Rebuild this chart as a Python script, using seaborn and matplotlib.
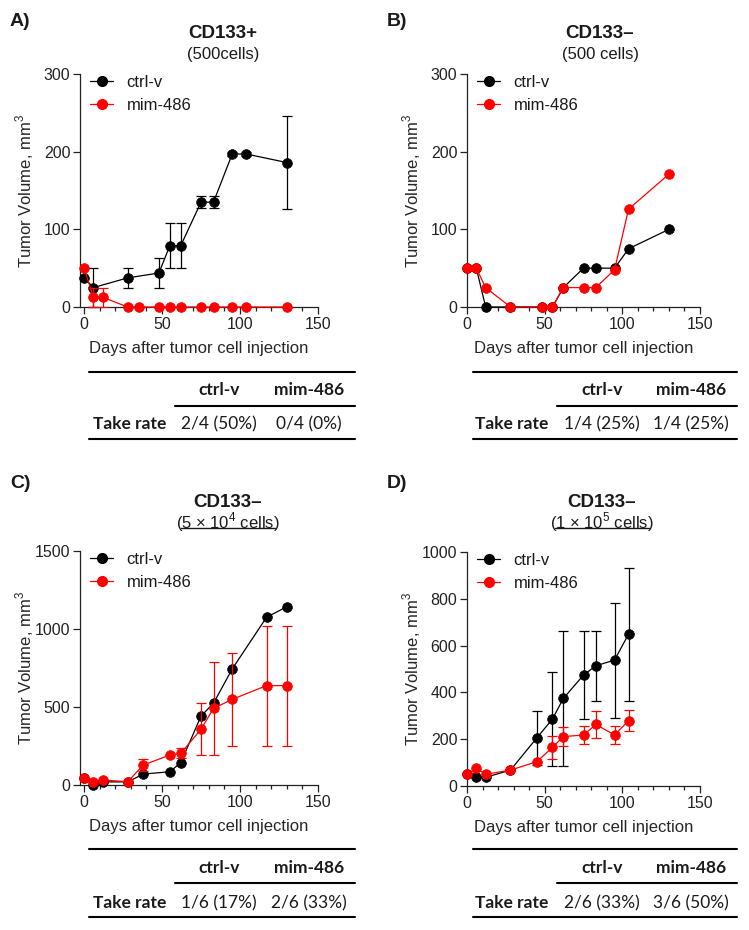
import numpy as np
import pandas as pd
import matplotlib
matplotlib.use("Agg")
import matplotlib.pyplot as plt
from matplotlib.lines import Line2D
from matplotlib.ticker import MultipleLocator
import seaborn as sns

# ---- data (mean tumour volume, mm^3, and SEM) ----
a_ctrl_days = [0, 6, 28, 48, 55, 62, 75, 83, 95, 104, 130]
a_ctrl_vol = [37.5, 25, 37.5, 43.75, 79, 79, 135, 135, 197, 197, 186]
a_ctrl_sem = [0, 25, 12.5, 18.75, 29, 29, 7.5, 7.5, 3, 3, 59.5]
a_mim_days = [0, 6, 12, 28, 35, 48, 55, 62, 75, 83, 95, 104, 130]
a_mim_vol = [50, 12.5, 12.5, 0, 0, 0, 0, 0, 0, 0, 0, 0, 0]
a_mim_sem = [0, 12.5, 12.5, 0, 0, 0, 0, 0, 0, 0, 0, 0, 0]

b_days = [0, 6, 12, 28, 48, 55, 62, 75, 83, 95, 104, 130]
b_ctrl_vol = [50, 50, 0, 0, 0, 0, 25, 50, 50, 50, 75, 100]
b_mim_vol = [50, 50, 25, 0, 0, 0, 25, 25, 25, 48, 126, 171]

c_days = [0, 6, 12, 28, 38, 55, 62, 75, 83, 95, 117, 130]
c_ctrl_vol = [45, 0, 20, 20, 70, 85, 143, 442, 524, 744, 1075, 1143]
c_mim_vol = [47, 21, 32, 21, 128, 192, 203, 357, 491, 549, 637, 637]
c_mim_sem = [0, 0, 0, 0, 36, 0, 32, 166, 299, 296, 385, 385]

d_days = [0, 6, 12, 28, 45, 55, 62, 75, 83, 95, 104]
d_ctrl_vol = [50, 37, 37, 68, 206, 286, 374, 474, 514, 538, 649]
d_ctrl_sem = [0, 0, 0, 0, 116, 200, 290, 187, 150, 246, 284]
d_mim_vol = [50, 75, 50, 68, 104, 165, 211, 218, 263, 218, 279]
d_mim_sem = [0, 0, 0, 0, 0, 50, 42, 38, 58, 38, 45]

groups = ["ctrl-v", "mim-486"]
take_a = ["2/4 (50%)", "0/4 (0%)"]
take_b = ["1/4 (25%)", "1/4 (25%)"]
take_c = ["1/6 (17%)", "2/6 (33%)"]
take_d = ["2/6 (33%)", "3/6 (50%)"]

colors = {"ctrl-v": "black", "mim-486": "#ff0000"}

sns.set_style("ticks")
plt.rcParams["font.family"] = ["Liberation Sans", "DejaVu Sans"]
plt.rcParams["text.color"] = "#1a1a1a"

W, H = 749, 930
fig = plt.figure(figsize=(W / 100, H / 100), dpi=100)
fig.patch.set_facecolor("white")


def fx(x):
    return x / W


def fy(y):
    return 1 - y / H


def rect(x0, y0, x1, y1):
    return [fx(x0), fy(y1), (x1 - x0) / W, (y1 - y0) / H]


def draw_series(ax, days, vol, sem, group):
    c = colors[group]
    df = pd.DataFrame({"day": days, "vol": vol, "sem": sem})
    err = df[df["sem"] > 0]
    if len(err):
        ax.errorbar(err["day"], err["vol"], yerr=err["sem"], fmt="none",
                    ecolor=c, elinewidth=0.9, capsize=3.8, capthick=0.9,
                    clip_on=False, zorder=3)
    sns.lineplot(data=df, x="day", y="vol", ax=ax, color=c, marker="o",
                 markersize=7, markeredgecolor=c, markeredgewidth=0.5,
                 linewidth=0.9, errorbar=None, legend=False, clip_on=False,
                 zorder=3)


def style_axes(ax, xmin, ymax, ystep, wpx, hpx):
    ax.set_xlim(xmin, 150)
    ax.set_ylim(0, ymax)
    ax.xaxis.set_major_locator(MultipleLocator(50))
    ax.xaxis.set_minor_locator(MultipleLocator(10))
    ax.yaxis.set_major_locator(MultipleLocator(ystep))
    sns.despine(ax=ax)
    for s in ("left", "bottom"):
        ax.spines[s].set_linewidth(0.9)
        ax.spines[s].set_color("#222222")
    ax.tick_params(which="major", direction="out", length=5, width=0.9,
                   labelsize=11.5, colors="#222222", pad=2)
    ax.tick_params(which="minor", direction="out", length=3, width=0.9,
                   colors="#222222")
    ax.set_xlabel("Days after tumor cell injection", fontsize=12)
    ax.set_ylabel("Tumor Volume, mm$^{\\mathregular{3}}$", fontsize=12)
    ax.xaxis.set_label_coords(0.5, -34 / hpx)
    ax.yaxis.set_label_coords(-44 / wpx, 0.5)
    handles = [Line2D([], [], color=colors[g], marker="o", markersize=7,
                      markeredgecolor=colors[g], linewidth=0.9) for g in groups]
    leg = ax.legend(handles, groups, loc="upper left",
                    bbox_to_anchor=(10 / wpx, 1 - 1 / hpx), frameon=False,
                    fontsize=12, handlelength=1.4, handletextpad=0.8,
                    labelspacing=0.5, borderpad=0, borderaxespad=0)
    leg.set_zorder(5)


panels = [
    # letter, axes box (px), xmin, ymax, ystep
    ("A)", (80, 74, 318, 307), -2.6, 300, 100),
    ("B)", (467, 74, 700, 307), 0, 300, 100),
    ("C)", (80, 551, 318, 785), -2.6, 1500, 500),
    ("D)", (467, 552, 700, 786), 0, 1000, 200),
]
axes = []
for letter, (x0, y0, x1, y1), xmin, ymax, ystep in panels:
    ax = fig.add_axes(rect(x0, y0, x1, y1))
    axes.append(ax)
    fig.text(fx(x0 - 70 if x0 < 200 else x0 - 80), fy(y0 - 52 if y0 < 200 else y0 - 68),
             letter, fontsize=14, fontweight="bold", ha="left", va="center")

zeros = lambda n: [0] * n
draw_series(axes[0], a_ctrl_days, a_ctrl_vol, a_ctrl_sem, "ctrl-v")
draw_series(axes[0], a_mim_days, a_mim_vol, a_mim_sem, "mim-486")
draw_series(axes[1], b_days, b_ctrl_vol, zeros(len(b_days)), "ctrl-v")
draw_series(axes[1], b_days, b_mim_vol, zeros(len(b_days)), "mim-486")
draw_series(axes[2], c_days, c_ctrl_vol, zeros(len(c_days)), "ctrl-v")
draw_series(axes[2], c_days, c_mim_vol, c_mim_sem, "mim-486")
draw_series(axes[3], d_days, d_ctrl_vol, d_ctrl_sem, "ctrl-v")
draw_series(axes[3], d_days, d_mim_vol, d_mim_sem, "mim-486")

for ax, (letter, (x0, y0, x1, y1), xmin, ymax, ystep) in zip(axes, panels):
    style_axes(ax, xmin, ymax, ystep, x1 - x0, y1 - y0)

# panel titles
fig.text(fx(223), fy(33), "CD133+", ha="center", va="center", fontsize=13.5, fontweight="bold")
fig.text(fx(223), fy(55), "(500cells)", ha="center", va="center", fontsize=12)
fig.text(fx(600), fy(33), "CD133\u2013", ha="center", va="center", fontsize=13.5, fontweight="bold")
fig.text(fx(600), fy(55), "(500 cells)", ha="center", va="center", fontsize=12)
fig.text(fx(228), fy(502), "CD133\u2013", ha="center", va="center", fontsize=13.5, fontweight="bold")
fig.text(fx(602), fy(502), "CD133\u2013", ha="center", va="center", fontsize=13.5, fontweight="bold")
sub_inner = {228: "5 \u00d7 10$^{\\mathregular{4}}$ cells", 602: "1 \u00d7 10$^{\\mathregular{5}}$ cells"}
for cx, inner in sub_inner.items():
    fig.text(fx(cx), fy(522), "(" + inner + ")", ha="center", va="center", fontsize=12)

# take-rate tables
tfont = ["Lato", "DejaVu Sans"]


def draw_table(xl, xm, xr, ytop, yhead, ymid, yrow, ybot, cols, xlab, values):
    for (a, b, y) in ((xl, xr, ytop), (xm, xr, ymid), (xl, xr, ybot)):
        fig.add_artist(Line2D([fx(a), fx(b)], [fy(y), fy(y)], color="black",
                              linewidth=1.5))
    for g, cx, v in zip(groups, cols, values):
        fig.text(fx(cx), fy(yhead), g, ha="center", va="center", fontsize=12.5,
                 fontweight="bold", family=tfont)
        fig.text(fx(cx), fy(yrow), v, ha="center", va="center", fontsize=12.5,
                 family=tfont)
    fig.text(fx(xlab), fy(yrow), "Take rate", ha="center", va="center",
             fontsize=12.5, fontweight="bold", family=tfont)


draw_table(89, 175, 355, 372, 390, 406, 424, 439, (219, 309), 130, take_a)
draw_table(473, 557, 737, 372, 390, 406, 424, 439, (602, 691), 512, take_b)
draw_table(89, 175, 355, 849, 868, 883, 903, 917, (219, 309), 130, take_c)
draw_table(473, 557, 737, 849, 868, 883, 903, 917, (602, 691), 512, take_d)

# underline the cell counts inside the parentheses
fig.canvas.draw()
renderer = fig.canvas.get_renderer()
for cx, inner in sub_inner.items():
    probe = fig.text(0, 0, inner, fontsize=12)
    w_in = probe.get_window_extent(renderer).width
    probe.remove()
    fig.add_artist(Line2D([(cx - w_in / 2) / W, (cx + w_in / 2) / W], [fy(528), fy(528)],
                          color="#1a1a1a", linewidth=1.0))

fig.savefig("out.png", dpi=100, facecolor="white")
